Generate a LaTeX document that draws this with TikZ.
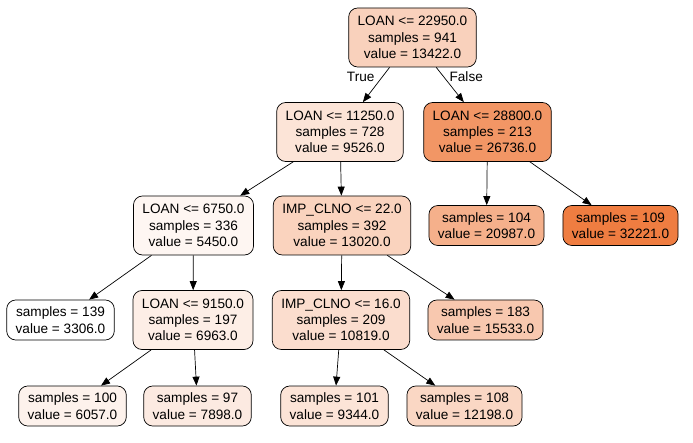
\documentclass[tikz,border=0pt]{standalone}
\usepackage{fontspec}
\setmainfont{Liberation Sans}
\usetikzlibrary{arrows.meta, positioning}
\definecolor{leaforange}{RGB}{239,125,65}

\begin{document}
\begin{tikzpicture}[x=1pt, y=-1pt, >={Triangle[length=9pt, width=7pt]},
    every node/.style={font=\fontsize{13.6}{16.3}\selectfont},
    split/.style={draw, rounded corners=9pt, align=center, inner xsep=9pt, minimum height=59pt, line width=0.7pt},
    leaf/.style={split, minimum height=40pt}]
    \useasboundingbox (0,0) rectangle (693,443);

    % Split nodes
    \node[split, fill=leaforange!35] (root) at (412.5,37.5) {LOAN <= 22950.0\\samples = 941\\value = 13422.0};
    \node[split, fill=leaforange!21] (a) at (340,132) {LOAN <= 11250.0\\samples = 728\\value = 9526.0};
    \node[split, fill=leaforange!81] (b) at (487.5,132) {LOAN <= 28800.0\\samples = 213\\value = 26736.0};
    \node[split, fill=leaforange!7] (c) at (193.5,225.5) {LOAN <= 6750.0\\samples = 336\\value = 5450.0};
    \node[split, fill=leaforange!34] (d) at (342,225.5) {IMP\_CLNO <= 22.0\\samples = 392\\value = 13020.0};
    \node[split, fill=leaforange!13] (e) at (193,320) {LOAN <= 9150.0\\samples = 197\\value = 6963.0};
    \node[split, fill=leaforange!26] (f) at (341,320) {IMP\_CLNO <= 16.0\\samples = 209\\value = 10819.0};

    % Leaves
    \node[leaf, fill=leaforange!61] (b1) at (486.5,225.5) {samples = 104\\value = 20987.0};
    \node[leaf, fill=leaforange] (b2) at (620.5,225.5) {samples = 109\\value = 32221.0};
    \node[leaf, fill=white] (c1) at (60.5,320) {samples = 139\\value = 3306.0};
    \node[leaf, fill=leaforange!42] (d2) at (485.5,320) {samples = 183\\value = 15533.0};
    \node[leaf, fill=leaforange!10] (e1) at (72.5,406) {samples = 100\\value = 6057.0};
    \node[leaf, fill=leaforange!16] (e2) at (197.5,406) {samples = 97\\value = 7898.0};
    \node[leaf, fill=leaforange!21] (f1) at (334.5,406) {samples = 101\\value = 9344.0};
    \node[leaf, fill=leaforange!31] (f2) at (464.5,406) {samples = 108\\value = 12198.0};

    % Edges
    \draw[->, line width=0.7pt] (root) -- node[pos=0.28, left=4pt] {True} (a);
    \draw[->, line width=0.7pt] (root) -- node[pos=0.28, right=2pt] {False} (b);
    \draw[->, line width=0.7pt] (a) -- (c);
    \draw[->, line width=0.7pt] (a) -- (d);
    \draw[->, line width=0.7pt] (b) -- (b1);
    \draw[->, line width=0.7pt] (b) -- (b2);
    \draw[->, line width=0.7pt] (c) -- (c1);
    \draw[->, line width=0.7pt] (c) -- (e);
    \draw[->, line width=0.7pt] (d) -- (f);
    \draw[->, line width=0.7pt] (d) -- (d2);
    \draw[->, line width=0.7pt] (e) -- (e1);
    \draw[->, line width=0.7pt] (e) -- (e2);
    \draw[->, line width=0.7pt] (f) -- (f1);
    \draw[->, line width=0.7pt] (f) -- (f2);
\end{tikzpicture}
\end{document}
